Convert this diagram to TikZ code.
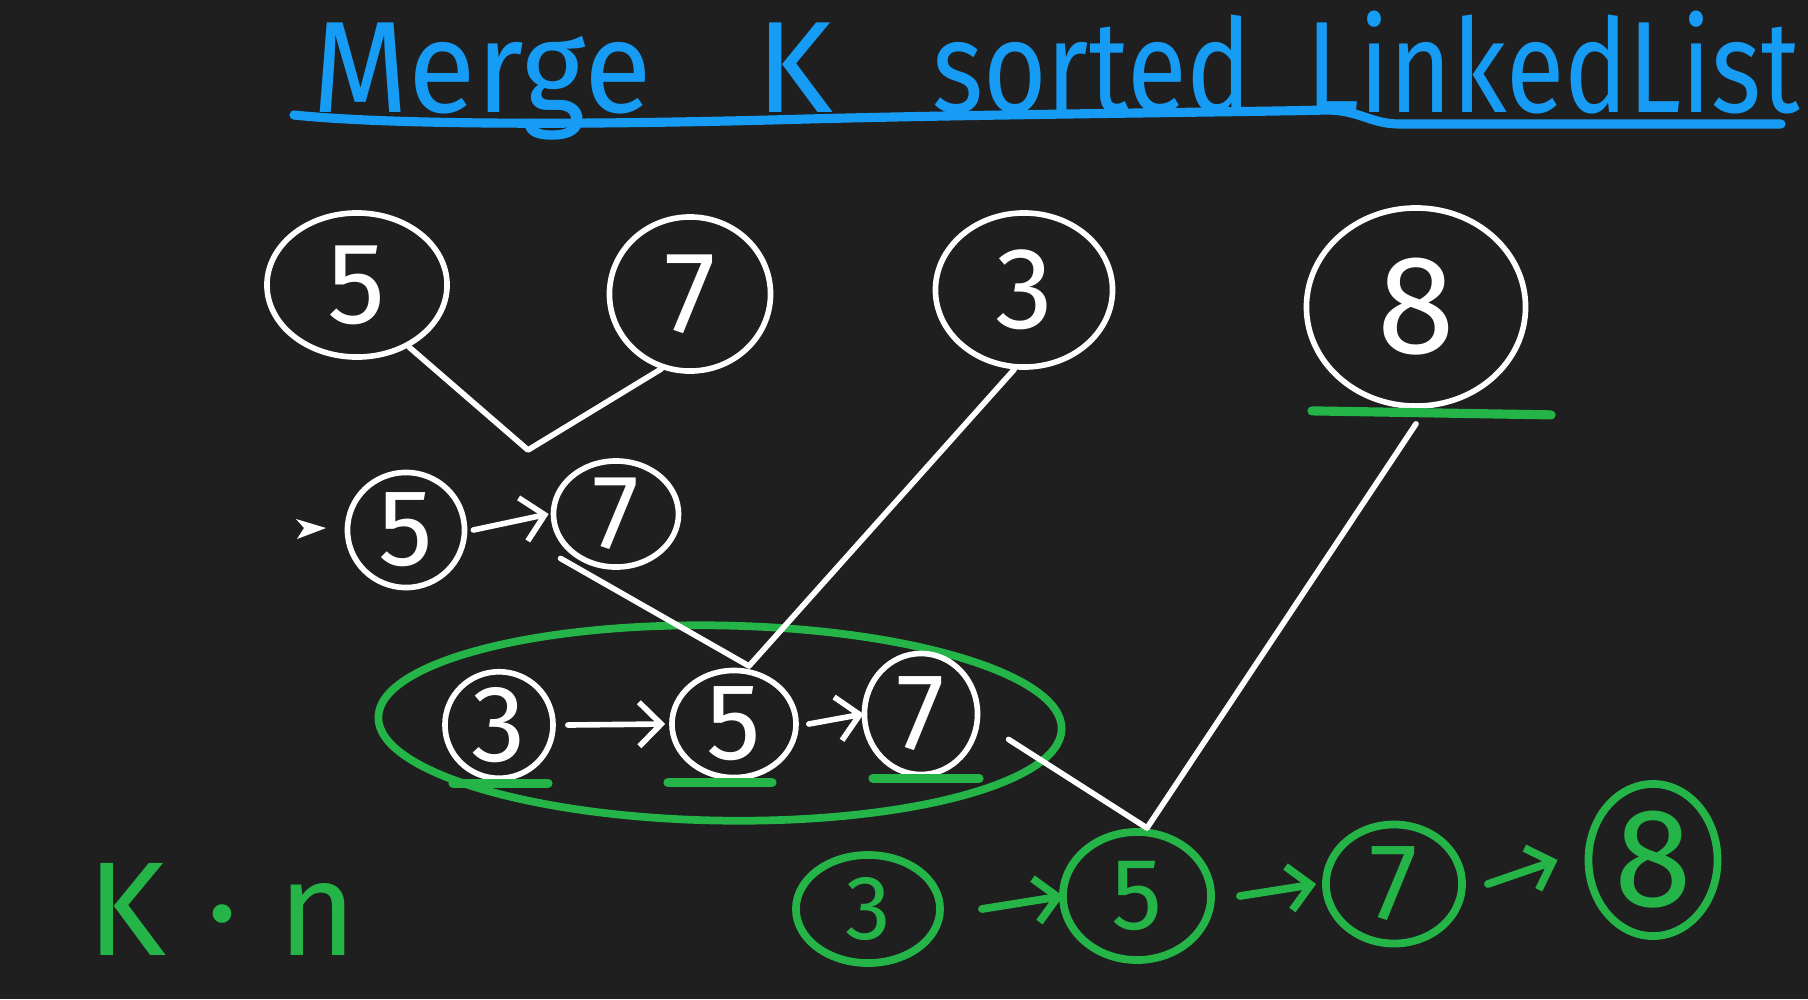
\documentclass[tikz,border=0pt]{standalone}
\usepackage{fontspec}
\setmainfont{Fira Sans}
\usetikzlibrary{shapes.geometric,arrows.meta}

\definecolor{bgdark}{RGB}{31,31,31}
\definecolor{penblue}{RGB}{22,156,245}
\definecolor{pengreen}{RGB}{36,180,72}

\tikzset{
  wcirc/.style={ellipse, draw=white, line width=1.6pt, text=white, inner sep=0pt},
  gcirc/.style={ellipse, draw=pengreen, line width=2.2pt, text=pengreen, inner sep=0pt},
  wline/.style={white, line width=1.6pt, line cap=round, line join=round},
  gline/.style={pengreen, line width=2.2pt, line cap=round},
  uline/.style={pengreen, line width=2.6pt, line cap=round},
  title/.style={text=penblue, font=\fontsize{37}{37}\selectfont, inner sep=0pt, anchor=base},
}
\newcommand{\digsize}[1]{\fontsize{#1}{#1}\selectfont}

\begin{document}
\begin{tikzpicture}[x=0.01cm, y=-0.01cm, >={Straight Barb[length=2.2mm,width=4.4mm]}]
  \fill[bgdark] (0,0) rectangle (1808,999);
  \useasboundingbox (0,0) rectangle (1808,999);

  % Title
  \node[title, xscale=0.95] (tMerge) at (482,112) {Merge};
  \node[title] (tK) at (795,112) {K};
  \node[title, xscale=0.84] (tSorted) at (1092,112) {sorted};
  \node[title, xscale=0.82] (tList) at (1553,112) {LinkedList};
  \draw[penblue, line width=2.6pt, line cap=round]
    (294,115) .. controls (380,124) and (560,126) .. (807,119)
    .. controls (1000,114) and (1250,112) .. (1326,110)
    .. controls (1360,110) and (1370,124) .. (1400,124) -- (1781,124);

  % Nodes: the k lists
  \node[wcirc, minimum width=1.80cm, minimum height=1.44cm, font=\digsize{33}] (a5) at (357,285) {5};
  \node[wcirc, minimum width=1.61cm, minimum height=1.54cm, font=\digsize{33}] (a7) at (690,294) {7};
  \node[wcirc, minimum width=1.77cm, minimum height=1.54cm, font=\digsize{33}] (a3) at (1024,290) {3};
  \node[wcirc, minimum width=2.19cm, minimum height=1.98cm, font=\digsize{40}] (a8) at (1416,307) {8};
  \draw[uline] ([xshift=-1.04cm,yshift=-0.02cm]a8.south) -- ([xshift=1.35cm,yshift=-0.06cm]a8.south);

  % first merge
  \fill[white] (296,519) -- (326,528) -- (297,539) -- (304,528) -- cycle;
  \node[wcirc, minimum width=1.17cm, minimum height=1.15cm, font=\digsize{31}] (b5) at (406,530) {5};
  \node[wcirc, minimum width=1.25cm, minimum height=1.06cm, font=\digsize{30}] (b7) at (616,514) {7};
  \coordinate (v1) at (528,450);
  \draw[wline] (a5.-50) -- (v1) -- (a7.-111);
  \draw[wline, ->] ([xshift=0.06cm]b5.east) -- ([xshift=-0.02cm]b7.west);

  % second merge
  \node[ellipse, draw=pengreen, line width=2.2pt, minimum width=6.83cm, minimum height=1.95cm, rotate=-1] (grp) at (720,723) {};
  \node[wcirc, minimum width=1.08cm, minimum height=1.03cm, font=\digsize{31}] (c3) at (499,725) {3};
  \node[wcirc, minimum width=1.24cm, minimum height=1.07cm, font=\digsize{31}] (c5) at (734,724) {5};
  \node[wcirc, minimum width=1.13cm, minimum height=1.21cm, font=\digsize{31}] (c7) at (921,714) {7};
  \draw[uline] ([xshift=-0.46cm,yshift=-0.02cm]c3.south) -- ([xshift=0.49cm,yshift=-0.02cm]c3.south);
  \draw[uline] ([xshift=-0.66cm,yshift=-0.02cm]c5.south) -- ([xshift=0.38cm,yshift=-0.02cm]c5.south);
  \draw[uline] ([xshift=-0.48cm,yshift=-0.01cm]c7.south) -- ([xshift=0.58cm,yshift=-0.01cm]c7.south);
  \coordinate (v2) at (749,666);
  \draw[wline] ([shift={(-0.08cm,-0.06cm)}]b7.-141) -- (v2) -- (a3.-97);
  \draw[wline, ->] ([xshift=0.12cm]c3.east) -- ([xshift=-0.04cm]c5.west);
  \draw[wline, ->] ([xshift=0.1cm]c5.east) -- ([xshift=0.02cm]c7.west);

  % result
  \node[gcirc, minimum width=1.44cm, minimum height=1.08cm, font=\digsize{26}] (d3) at (868,909) {3};
  \node[gcirc, minimum width=1.48cm, minimum height=1.28cm, font=\digsize{29}] (d5) at (1137,896) {5};
  \node[gcirc, minimum width=1.36cm, minimum height=1.19cm, font=\digsize{31}] (d7) at (1394,884) {7};
  \node[gcirc, minimum width=1.29cm, minimum height=1.52cm, font=\digsize{40}] (d8) at (1653,860) {8};
  \coordinate (v3) at (1147,828);
  \draw[wline] ([shift={(0.3cm,-0.1cm)}]c7.-15) -- (v3) -- ([yshift=-0.15cm]a8.south);
  \draw[gline, ->] ([xshift=0.38cm]d3.east) -- ([xshift=0.04cm]d5.west);
  \draw[gline, ->] ([xshift=0.25cm]d5.east) -- ([xshift=-0.06cm]d7.west);
  \draw[gline, ->] ([xshift=0.22cm]d7.east) -- ([xshift=-0.27cm]d8.west);

  % cost
  \node[text=pengreen, font=\digsize{38}, anchor=base] (cost) at (222,955) {K\hspace{0.3em}·\hspace{0.3em}n};
\end{tikzpicture}
\end{document}
